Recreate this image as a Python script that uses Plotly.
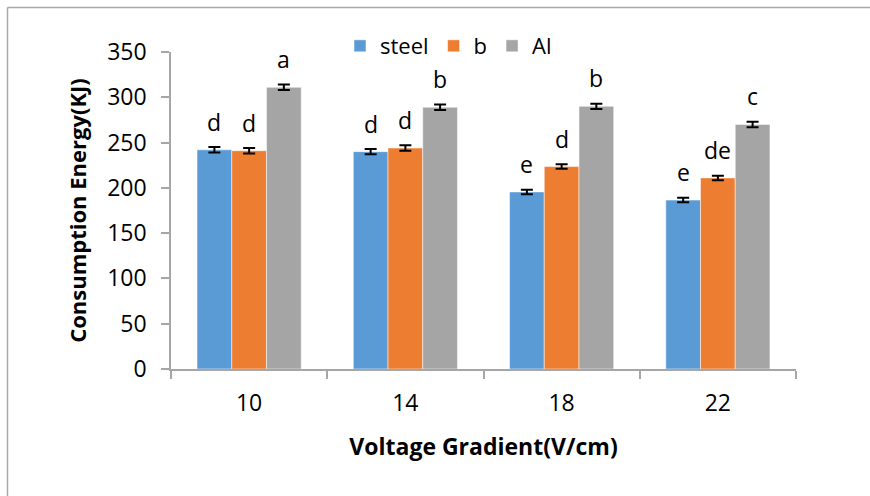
import plotly.graph_objects as go

categories = ["10", "14", "18", "22"]
series_names = ["steel", "b", "Al"]
steel = [242, 240, 195.5, 186.5]
b_vals = [241, 244, 223.5, 211]
al = [311, 289, 290, 270]
steel_err = [3, 3, 2.5, 2.5]
b_err = [3, 3, 2.5, 2.5]
al_err = [3, 3, 3, 3]
steel_letters = ["d", "d", "e", "e"]
b_letters = ["d", "d", "d", "de"]
al_letters = ["a", "b", "b", "c"]
colors = ["#5B9BD5", "#ED7D31", "#A5A5A5"]

W, H = 870, 496
L, R, T, B = 171, 74, 52, 126.5
pw, ph = W - L - R, H - T - B

FONT = "Open Sans"
fig = go.Figure()
data = [(steel, steel_err, steel_letters), (b_vals, b_err, b_letters), (al, al_err, al_letters)]
for i, (vals, errs, letters) in enumerate(data):
    fig.add_trace(go.Bar(
        x=categories, y=vals, name=series_names[i],
        marker=dict(color=colors[i], line=dict(color="rgba(255,255,255,0.5)", width=1)),
        error_y=dict(type="data", array=errs, visible=True, color="black", thickness=2, width=6),
    ))

bargap = 1.5 / 4.5
bw = (1 - bargap) / 3
for i, (vals, errs, letters) in enumerate(data):
    off = (i - 1) * bw
    for j, (v, t) in enumerate(zip(vals, letters)):
        fig.add_annotation(x=j + off, y=v, text=t, showarrow=False, xref="x", yref="y",
                           yanchor="middle", yshift=28,
                           font=dict(family=FONT, size=23, color="black"))

# chart area border (top and left edges only are inside the picture)
def px_x(p):
    return (p - L) / pw

def px_y(p):
    return 1 - (p - T) / ph

fig.add_shape(type="line", xref="paper", yref="paper", x0=px_x(7.5), x1=px_x(W + 30),
              y0=px_y(7.5), y1=px_y(7.5), line=dict(color="#a8a8a8", width=1.5), layer="below")
fig.add_shape(type="line", xref="paper", yref="paper", x0=px_x(7.5), x1=px_x(7.5),
              y0=px_y(7.5), y1=px_y(H + 30), line=dict(color="#a8a8a8", width=1.5), layer="below")

fig.update_layout(
    width=W, height=H,
    margin=dict(l=L, r=R, t=T, b=B, autoexpand=False),
    paper_bgcolor="white", plot_bgcolor="white",
    barmode="group", bargap=bargap, bargroupgap=0,
    font=dict(family=FONT, size=23, color="black"),
    showlegend=True,
    legend=dict(orientation="h", x=(340 - L) / pw, xanchor="left", y=1 + (T - 46) / ph, yanchor="middle",
                font=dict(family=FONT, size=22, color="black"), itemwidth=30, traceorder="normal",
                bgcolor="rgba(0,0,0,0)"),
    xaxis=dict(type="category", showline=True, linecolor="#a6a6a6", linewidth=1.5,
               ticks="outside", ticklen=8, tickcolor="#a6a6a6", tickwidth=1.5, tickson="boundaries",
               showgrid=False, ticklabelstandoff=13,
               title=dict(text="<b>Voltage Gradient(V/cm)</b>", font=dict(family=FONT, size=23, color="black"), standoff=22)),
    yaxis=dict(range=[0, 350], dtick=50, showline=True, linecolor="#a6a6a6", linewidth=1.5,
               ticks="outside", ticklen=8, tickcolor="#a6a6a6", tickwidth=1.5, showgrid=False, zeroline=False,
               ticklabelstandoff=10,
               title=dict(text="<b>Consumption Energy(KJ)</b>", font=dict(family=FONT, size=22, color="black"), standoff=14)),
)

fig.write_html("out.html", config={"displayModeBar": False},
               post_script="document.body.style.margin='0';document.body.style.overflow='hidden';")
